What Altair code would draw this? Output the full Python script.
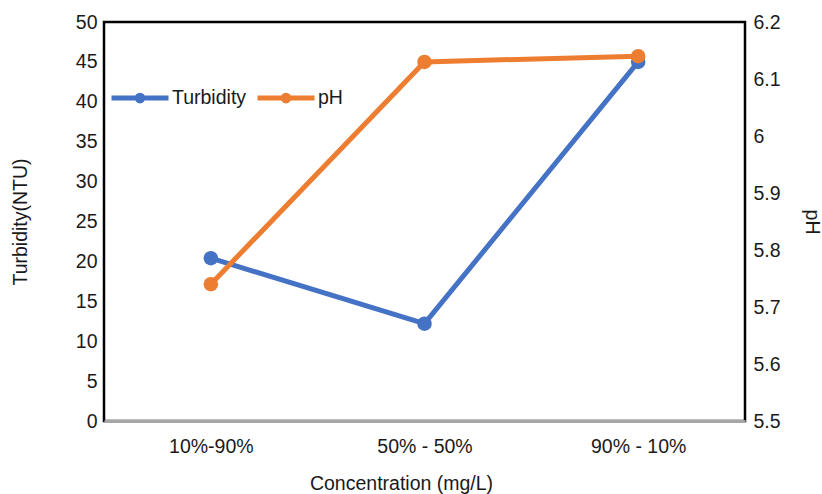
import altair as alt
import pandas as pd

categories = ["10%-90%", "50% - 50%", "90% - 10%"]
turbidity = [20.4, 12.2, 45.0]
ph = [5.74, 6.13, 6.14]
turb_ticks = [0, 5, 10, 15, 20, 25, 30, 35, 40, 45, 50]
ph_ticks = [5.5, 5.6, 5.7, 5.8, 5.9, 6.0, 6.1, 6.2]
series_names = ["Turbidity", "pH"]
series_colors = ["#4472C4", "#ED7D31"]

df_t = pd.DataFrame({"cat": categories, "value": turbidity, "series": "Turbidity"})
df_p = pd.DataFrame({"cat": categories, "value": ph, "series": "pH"})

FONT = "Liberation Sans"
FS = 19.5

x_enc = alt.X(
    "cat:N",
    sort=categories,
    scale=alt.Scale(type="point", padding=0.5),
    axis=alt.Axis(
        title="Concentration (mg/L)",
        labelAngle=0,
        ticks=False,
        domainColor="#a6a6a6",
        domainWidth=3,
        labelPadding=16,
        labelFontSize=FS,
        titleFontSize=FS,
        titleFontWeight="normal",
        titleX=297,
        titleY=62,
        titleAlign="center",
        titleBaseline="middle",
        grid=False,
    ),
)

legend_path = "M-1,0L1,0M-0.1,0A0.1,0.1,0,1,1,0.1,0A0.1,0.1,0,1,1,-0.1,0Z"

color_enc = alt.Color(
    "series:N",
    scale=alt.Scale(domain=series_names, range=series_colors),
    legend=alt.Legend(
        title=None,
        orient="none",
        legendX=5,
        legendY=45,
        direction="horizontal",
        symbolType=legend_path,
        symbolSize=3249,
        symbolStrokeWidth=5,
        labelFontSize=FS,
        labelColor="#1a1a1a",
        labelOffset=1,
        columnPadding=0,
        padding=0,
    ),
)

line_t = alt.Chart(df_t).mark_line(
    strokeWidth=5,
    point=alt.OverlayMarkDef(size=210, filled=True, opacity=1),
).encode(
    x=x_enc,
    y=alt.Y(
        "value:Q",
        scale=alt.Scale(domain=[0, 50], nice=False, zero=False),
        axis=alt.Axis(
            title="Turbidity(NTU)",
            values=turb_ticks,
            ticks=False,
            domain=False,
            grid=False,
            labelPadding=7,
            labelFontSize=FS,
            titleFontSize=FS,
            titleFontWeight="normal",
            titleX=-84,
            titleY=199.5,
            titleAlign="center",
            titleBaseline="middle",
        ),
    ),
    color=color_enc,
)

line_p = alt.Chart(df_p).mark_line(
    strokeWidth=5,
    point=alt.OverlayMarkDef(size=210, filled=True, opacity=1),
).encode(
    x=x_enc,
    y=alt.Y(
        "value:Q",
        scale=alt.Scale(domain=[5.5, 6.2], nice=False, zero=False),
        axis=alt.Axis(
            title="pH",
            orient="right",
            values=ph_ticks,
            format="~g",
            ticks=False,
            domain=False,
            grid=False,
            labelPadding=8,
            labelFontSize=FS,
            titleFontSize=FS,
            titleFontWeight="normal",
            titleAngle=90,
            titleX=66,
            titleY=199.5,
            titleAlign="center",
            titleBaseline="middle",
        ),
    ),
    color=color_enc,
)

chart = (
    alt.layer(line_t, line_p)
    .resolve_scale(y="independent")
    .properties(
        width=641,
        height=399,
        autosize=alt.AutoSizeParams(type="none"),
        padding={"left": 104, "top": 22, "right": 77, "bottom": 73},
        background="white",
    )
    .configure(font=FONT)
    .configure_view(stroke="black", strokeWidth=2.5)
    .configure_axis(labelColor="#1a1a1a", titleColor="#1a1a1a", labelFont=FONT, titleFont=FONT)
)

chart.save("out.html", embed_options={"renderer": "svg", "actions": False})
